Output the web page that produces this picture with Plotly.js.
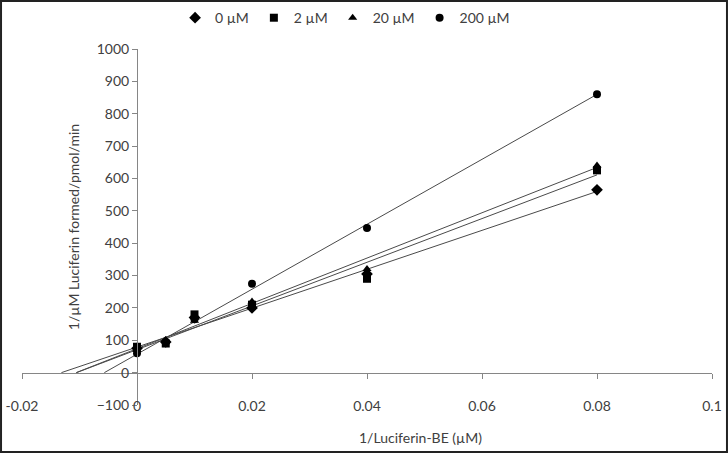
<!DOCTYPE html>
<html>
<head>
<meta charset="utf-8">
<script src="https://cdn.plot.ly/plotly-3.0.1.min.js"></script>
<style>
  body { margin: 0; background: #fff; }
  #chart { width: 728px; height: 453px; }
</style>
</head>
<body>
<div id="chart"></div>
<script>
// x values: 1/Luciferin-BE (uM)
const xVals = [0, 0.005, 0.01, 0.02, 0.04, 0.08];

// 1/v values, one array per inhibitor concentration
const y0uM   = [75, 95, 170, 200, 305, 565];
const y2uM   = [80, 90, 180, 210, 290, 625];
const y20uM  = [70, 100, 160, 220, 320, 640];
const y200uM = [60, 95, 165, 275, 447, 860];

const seriesNames = ['0 \u00b5M', '2 \u00b5M', '20 \u00b5M', '200 \u00b5M'];
const symbols = ['diamond', 'square', 'triangle-up', 'circle'];

// trendlines (slope, intercept) as drawn in the picture
const fitSlope = [6010, 6750, 7000, 10035];
const fitIntercept = [79, 71, 74, 57];
const fitEndX = 0.08;

const xTicks = [-0.02, 0, 0.02, 0.04, 0.06, 0.08, 0.1];
const xTickText = ['-0.02', '0', '0.02', '0.04', '0.06', '0.08', '0.1'];
const yTicks = [-100, 0, 100, 200, 300, 400, 500, 600, 700, 800, 900, 1000];

const ySeries = [y0uM, y2uM, y20uM, y200uM];

const textColor = '#404040';
const axisColor = '#868686';
const font = { family: 'Lato, "Open Sans", sans-serif', size: 14, color: textColor };

const traces = [];

// trendlines, from the x intercept to the last point
ySeries.forEach((ys, i) => {
  const x0 = -fitIntercept[i] / fitSlope[i];
  traces.push({
    type: 'scatter',
    mode: 'lines',
    x: [x0, fitEndX],
    y: [0, fitIntercept[i] + fitSlope[i] * fitEndX],
    line: { color: '#4a4a4a', width: 1 },
    showlegend: false,
    hoverinfo: 'skip'
  });
});

ySeries.forEach((ys, i) => {
  traces.push({
    type: 'scatter',
    mode: 'markers',
    name: seriesNames[i],
    x: xVals,
    y: ys,
    marker: { symbol: symbols[i], color: '#000', size: symbols[i] === 'diamond' ? 9 : 8 }
  });
});

// dummy trace so the label axis gets drawn
traces.push({
  type: 'scatter', mode: 'markers', x: [0], y: [null],
  xaxis: 'x2', showlegend: false, hoverinfo: 'skip'
});

const layout = {
  width: 728,
  height: 453,
  margin: { l: 22, r: 16, t: 49, b: 48, autoexpand: false },
  paper_bgcolor: '#fff',
  plot_bgcolor: '#fff',
  font: font,
  showlegend: true,
  legend: {
    orientation: 'h',
    xref: 'container', yref: 'container',
    x: 0.474, xanchor: 'center',
    y: 0.96, yanchor: 'middle',
    font: font,
    itemwidth: 30,
    tracegroupgap: 0
  },
  xaxis: {
    range: [-0.02, 0.1],
    anchor: 'free',
    position: 0.0909,
    showline: true,
    linecolor: axisColor,
    linewidth: 1,
    ticks: 'outside',
    ticklen: 5,
    tickcolor: axisColor,
    tickvals: xTicks,
    showticklabels: false,
    showgrid: false,
    zeroline: false
  },
  xaxis2: {
    range: [-0.02, 0.1],
    overlaying: 'x',
    anchor: 'free',
    position: 0.025,
    showline: false,
    ticks: '',
    tickvals: xTicks,
    ticktext: xTickText,
    tickfont: font,
    showgrid: false,
    zeroline: false
  },
  yaxis: {
    range: [-100, 1000],
    anchor: 'free',
    position: 0.1667,
    showline: true,
    linecolor: axisColor,
    linewidth: 1,
    ticks: 'outside',
    ticklen: 5,
    tickcolor: axisColor,
    tickvals: yTicks,
    tickfont: font,
    showgrid: false,
    zeroline: false,
    title: { text: '1/\u00b5M Luciferin formed/pmol/min', font: font, standoff: 12 }
  },
  annotations: [{
    text: '1/Luciferin-BE (\u00b5M)',
    xref: 'paper', yref: 'paper',
    x: 0.577, y: -0.09,
    xanchor: 'center', yanchor: 'middle',
    showarrow: false,
    font: font
  }],
  shapes: [{
    type: 'rect',
    xref: 'paper', yref: 'paper',
    x0: -0.0304, x1: 1.0217, y0: -0.132, y1: 1.1348,
    line: { color: '#222', width: 2 }
  }]
};

Plotly.newPlot('chart', traces, layout, { displayModeBar: false, staticPlot: true });
</script>
</body>
</html>
